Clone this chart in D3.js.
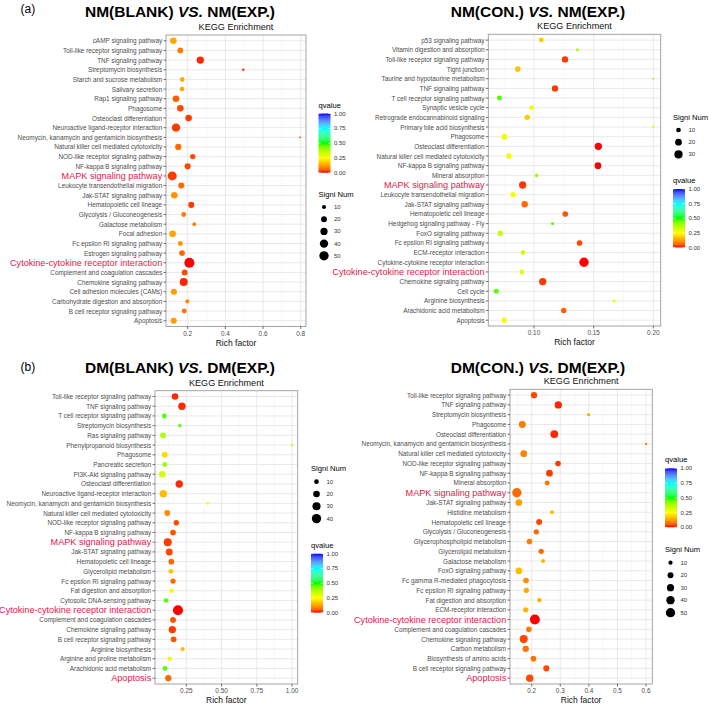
<!DOCTYPE html>
<html><head><meta charset="utf-8">
<script src="https://cdn.jsdelivr.net/npm/d3@7"></script>
<style>body{margin:0;background:#fff}</style>
</head><body>
<svg id="c" width="709" height="706"></svg>
<script>
// ---------------- DATA ----------------
const qBreaks = [0, 0.25, 0.5, 0.75, 1];

const aLeftPathways = ["cAMP signaling pathway","Toll-like receptor signaling pathway","TNF signaling pathway","Streptomycin biosynthesis","Starch and sucrose metabolism","Salivary secretion","Rap1 signaling pathway","Phagosome","Osteoclast differentiation","Neuroactive ligand-receptor interaction","Neomycin, kanamycin and gentamicin biosynthesis","Natural killer cell mediated cytotoxicity","NOD-like receptor signaling pathway","NF-kappa B signaling pathway","MAPK signaling pathway","Leukocyte transendothelial migration","Jak-STAT signaling pathway","Hematopoietic cell lineage","Glycolysis / Gluconeogenesis","Galactose metabolism","Focal adhesion","Fc epsilon RI signaling pathway","Estrogen signaling pathway","Cytokine-cytokine receptor interaction","Complement and coagulation cascades","Chemokine signaling pathway","Cell adhesion molecules (CAMs)","Carbohydrate digestion and absorption","B cell receptor signaling pathway","Apoptosis"];
const aLeftRich = [0.124,0.161,0.267,0.495,0.171,0.170,0.138,0.161,0.205,0.138,0.796,0.150,0.227,0.200,0.118,0.166,0.129,0.219,0.179,0.235,0.120,0.161,0.170,0.209,0.184,0.179,0.127,0.198,0.182,0.126];
const aLeftQ = [0.13,0.08,0.01,0.02,0.13,0.13,0.05,0.03,0.02,0.02,0.03,0.06,0.03,0.03,0.02,0.06,0.11,0.02,0.08,0.08,0.13,0.11,0.06,0.00,0.03,0.01,0.12,0.10,0.07,0.12];
const aLeftCount = [25,19,31,4,12,12,25,25,25,40,2,22,16,22,46,21,25,21,14,8,25,14,19,58,19,37,22,10,14,21];
const aLeftHighlight = [14, 23];
const aLeftTicks = [0.2, 0.4, 0.6, 0.8];
const aLeftSizeBreaks = [10, 20, 30, 40, 50];

const aRightPathways = ["p53 signaling pathway","Vitamin digestion and absorption","Toll-like receptor signaling pathway","Tight junction","Taurine and hypotaurine metabolism","TNF signaling pathway","T cell receptor signaling pathway","Synaptic vesicle cycle","Retrograde endocannabinoid signaling","Primary bile acid biosynthesis","Phagosome","Osteoclast differentiation","Natural killer cell mediated cytotoxicity","NF-kappa B signaling pathway","Mineral absorption","MAPK signaling pathway","Leukocyte transendothelial migration","Jak-STAT signaling pathway","Hematopoietic cell lineage","Hedgehog signaling pathway - Fly","FoxO signaling pathway","Fc epsilon RI signaling pathway","ECM-receptor interaction","Cytokine-cytokine receptor interaction","Cytokine-cytokine receptor interaction","Chemokine signaling pathway","Cell cycle","Arginine biosynthesis","Arachidonic acid metabolism","Apoptosis"];
const aRightRich = [0.1061,0.1363,0.126,0.0864,0.200,0.1176,0.0710,0.098,0.0944,0.200,0.0751,0.1539,0.079,0.1536,0.1022,0.0905,0.0824,0.0922,0.1262,0.1156,0.0718,0.1382,0.0908,0.1419,0.0897,0.1073,0.0684,0.167,0.1249,0.0751];
const aRightQ = [0.18,0.38,0.02,0.17,0.38,0.02,0.47,0.28,0.18,0.27,0.27,0.0,0.27,0.0,0.40,0.02,0.27,0.06,0.04,0.45,0.35,0.03,0.33,0.0,0.29,0.02,0.47,0.28,0.05,0.27];
const aRightCount = [11,4,18,14,2,18,11,10,13,3,16,24,14,20,6,24,13,18,14,5,13,14,10,39,10,24,11,4,13,13];
const aRightHighlight = [15, 24];
const aRightTicks = [0.10, 0.15, 0.20];
const aRightSizeBreaks = [10, 20, 30];

const bLeftPathways = ["Toll-like receptor signaling pathway","TNF signaling pathway","T cell receptor signaling pathway","Streptomycin biosynthesis","Ras signaling pathway","Phenylpropanoid biosynthesis","Phagosome","Pancreatic secretion","PI3K-Akt signaling pathway","Osteoclast differentiation","Neuroactive ligand-receptor interaction","Neomycin, kanamycin and gentamicin biosynthesis","Natural killer cell mediated cytotoxicity","NOD-like receptor signaling pathway","NF-kappa B signaling pathway","MAPK signaling pathway","Jak-STAT signaling pathway","Hematopoietic cell lineage","Glycerolipid metabolism","Fc epsilon RI signaling pathway","Fat digestion and absorption","Cytosolic DNA-sensing pathway","Cytokine-cytokine receptor interaction","Complement and coagulation cascades","Chemokine signaling pathway","B cell receptor signaling pathway","Arginine biosynthesis","Arginine and proline metabolism","Arachidonic acid metabolism","Apoptosis"];
const bLeftRich = [0.170,0.219,0.094,0.203,0.085,1.0,0.097,0.097,0.080,0.200,0.087,0.402,0.115,0.179,0.156,0.118,0.129,0.144,0.141,0.156,0.146,0.106,0.191,0.156,0.151,0.160,0.224,0.132,0.099,0.122];
const bLeftQ = [0.01,0.01,0.47,0.47,0.38,0.38,0.20,0.40,0.32,0.01,0.16,0.24,0.10,0.03,0.04,0.02,0.03,0.06,0.17,0.06,0.27,0.47,0.0,0.04,0.02,0.04,0.15,0.27,0.47,0.06];
const bLeftCount = [20,25,11,5,16,2,16,11,20,25,25,4,16,13,15,29,22,15,11,13,9,10,46,16,25,15,7,10,10,18];
const bLeftHighlight = [15, 22, 29];
const bLeftTicks = [0.25, 0.50, 0.75, 1.00];
const bLeftSizeBreaks = [10, 20, 30, 40];

const bRightPathways = ["Toll-like receptor signaling pathway","TNF signaling pathway","Streptomycin biosynthesis","Phagosome","Osteoclast differentiation","Neomycin, kanamycin and gentamicin biosynthesis","Natural killer cell mediated cytotoxicity","NOD-like receptor signaling pathway","NF-kappa B signaling pathway","Mineral absorption","MAPK signaling pathway","Jak-STAT signaling pathway","Histidine metabolism","Hematopoietic cell lineage","Glycolysis / Gluconeogenesis","Glycerophospholipid metabolism","Glycerolipid metabolism","Galactose metabolism","FoxO signaling pathway","Fc gamma R-mediated phagocytosis","Fc epsilon RI signaling pathway","Fat digestion and absorption","ECM-receptor interaction","Cytokine-cytokine receptor interaction","Complement and coagulation cascades","Chemokine signaling pathway","Carbon metabolism","Biosynthesis of amino acids","B cell receptor signaling pathway","Apoptosis"];
const bRightRich = [0.208,0.293,0.399,0.167,0.279,0.600,0.172,0.292,0.262,0.254,0.148,0.155,0.271,0.226,0.216,0.192,0.233,0.240,0.155,0.180,0.181,0.227,0.179,0.211,0.190,0.172,0.179,0.206,0.251,0.193];
const bRightQ = [0.03,0.01,0.14,0.08,0.01,0.08,0.09,0.02,0.02,0.07,0.06,0.12,0.16,0.03,0.06,0.08,0.06,0.15,0.16,0.10,0.13,0.14,0.15,0.0,0.08,0.03,0.07,0.07,0.03,0.03];
const bRightCount = [23,31,6,28,34,3,26,18,26,14,50,26,9,21,16,18,16,9,26,18,16,11,16,57,18,37,23,18,21,31];
const bRightHighlight = [10, 23, 29];
const bRightTicks = [0.2, 0.3, 0.4, 0.5, 0.6];
const bRightSizeBreaks = [10, 20, 30, 40, 50];

// ---------------- DRAWING ----------------
const FONT = "'Liberation Sans', Arial, Helvetica, sans-serif";
const RED_LABEL = "#E0204A";
const svg = d3.select("#c");
svg.append("rect").attr("width",709).attr("height",706).attr("fill","#fff");

const colour = d3.scaleLinear().domain(qBreaks)
  .range(["#FF0000","#FFFF00","#00FF00","#00FFFF","#0000FF"])
  .interpolate(d3.interpolateLab).clamp(true);

function fmtTick(ticks){
  const step = ticks[1]-ticks[0];
  const dec = step < 0.1 - 1e-9 || ticks.some(t => Math.abs(t*10 - Math.round(t*10))>1e-9) ? 2 : 1;
  return d3.format("." + dec + "f");
}

let gid = 0;
function drawPanel(p){
  const g = svg.append("g");
  const x = d3.scaleLinear().domain(p.xDomain).range([p.x0, p.x1]);
  const idx = d3.range(p.names.length);
  const y = d3.scalePoint().domain(idx).range([p.y0, p.y1]).padding(0.6);
  const rScale = n => p.k * Math.sqrt(n);

  g.append("rect").attr("x",p.x0).attr("y",p.y0).attr("width",p.x1-p.x0).attr("height",p.y1-p.y0).attr("fill","#fff");
  const step = p.ticks[1]-p.ticks[0];
  const minor = [];
  for (let t = p.ticks[0]-step/2; t <= p.ticks[p.ticks.length-1]+step; t += step) {
    if (t > p.xDomain[0] && t < p.xDomain[1]) minor.push(t);
  }
  g.selectAll(null).data(minor).join("line")
    .attr("x1",d=>x(d)).attr("x2",d=>x(d)).attr("y1",p.y0).attr("y2",p.y1)
    .attr("stroke","#F0F0F0").attr("stroke-width",0.5);
  g.selectAll(null).data(p.ticks).join("line")
    .attr("x1",d=>x(d)).attr("x2",d=>x(d)).attr("y1",p.y0).attr("y2",p.y1)
    .attr("stroke","#E6E6E6").attr("stroke-width",0.9);
  g.selectAll(null).data(idx).join("line")
    .attr("x1",p.x0).attr("x2",p.x1).attr("y1",d=>y(d)).attr("y2",d=>y(d))
    .attr("stroke","#E6E6E6").attr("stroke-width",0.9);

  g.selectAll(null).data(idx).join("circle")
    .attr("cx",i=>x(p.rich[i])).attr("cy",i=>y(i))
    .attr("r",i=>rScale(p.count[i]))
    .attr("fill",i=>colour(p.q[i]));

  g.append("rect").attr("x",p.x0).attr("y",p.y0).attr("width",p.x1-p.x0).attr("height",p.y1-p.y0)
    .attr("fill","none").attr("stroke","#9A9A9A").attr("stroke-width",0.9);

  g.selectAll(null).data(idx).join("line")
    .attr("x1",p.x0-2.5).attr("x2",p.x0).attr("y1",d=>y(d)).attr("y2",d=>y(d))
    .attr("stroke","#333").attr("stroke-width",0.7);
  g.selectAll(null).data(idx).join("text")
    .attr("x",p.x0-3.8).attr("y",d=>y(d))
    .attr("text-anchor","end").attr("dominant-baseline","central")
    .attr("font-family",FONT)
    .attr("font-size",d=>p.highlight.includes(d)?9.1:6.4)
    .attr("fill",d=>p.highlight.includes(d)?RED_LABEL:"#4D4D4D")
    .text(d=>p.names[d]);

  const f = fmtTick(p.ticks);
  g.selectAll(null).data(p.ticks).join("line")
    .attr("x1",d=>x(d)).attr("x2",d=>x(d)).attr("y1",p.y1).attr("y2",p.y1+2.5)
    .attr("stroke","#333").attr("stroke-width",0.7);
  g.selectAll(null).data(p.ticks).join("text")
    .attr("x",d=>x(d)).attr("y",p.y1+9.3)
    .attr("text-anchor","middle").attr("font-family",FONT).attr("font-size",6.4).attr("fill","#4D4D4D")
    .text(d=>f(d));
  g.append("text").attr("x",(p.x0+p.x1)/2).attr("y",p.y1+p.xTitleGap)
    .attr("text-anchor","middle").attr("font-family",FONT).attr("font-size",8.5).attr("fill","#111")
    .text("Rich factor");
  g.append("text").attr("x",(p.x0+p.x1)/2).attr("y",p.y0-5.2)
    .attr("text-anchor","middle").attr("font-family",FONT).attr("font-size",9.1).attr("fill","#111")
    .text("KEGG Enrichment");

  const t = g.append("text").attr("x",p.titleX).attr("y",p.titleY)
    .attr("text-anchor","middle").attr("font-family",FONT).attr("font-size",15.5).attr("font-weight","bold").attr("fill","#000");
  t.append("tspan").text(p.title[0] + " ");
  t.append("tspan").attr("font-style","italic").text(p.title[1]);
  t.append("tspan").text(" " + p.title[2]);
  if (p.tag) {
    g.append("text").attr("x",p.tag.x).attr("y",p.tag.y).attr("font-family",FONT).attr("font-size",12)
      .attr("fill","#000").text(p.tag.text);
  }

  const q = p.qLeg;
  const id = "grad" + (gid++);
  const grad = svg.append("defs").append("linearGradient").attr("id",id)
    .attr("x1",0).attr("y1",1).attr("x2",0).attr("y2",0);
  d3.range(0,1.0001,0.05).forEach(v => grad.append("stop").attr("offset",v).attr("stop-color",colour(v)));
  g.append("text").attr("x",q.x).attr("y",q.titleY).attr("font-family",FONT).attr("font-size",7.6).attr("fill","#000").text("qvalue");
  g.append("rect").attr("x",q.x).attr("y",q.y0).attr("width",12).attr("height",q.y1-q.y0).attr("fill","url(#"+id+")");
  const qy = d3.scaleLinear().domain([0,1]).range([q.y1,q.y0]);
  g.selectAll(null).data(qBreaks).join("line")
    .attr("x1",q.x).attr("x2",q.x+2.4).attr("y1",d=>qy(d)).attr("y2",d=>qy(d)).attr("stroke","#fff").attr("stroke-width",0.6);
  g.selectAll(null).data(qBreaks).join("line")
    .attr("x1",q.x+9.6).attr("x2",q.x+12).attr("y1",d=>qy(d)).attr("y2",d=>qy(d)).attr("stroke","#fff").attr("stroke-width",0.6);
  g.selectAll(null).data(qBreaks).join("text")
    .attr("x",q.x+15.5).attr("y",d=>qy(d)).attr("dominant-baseline","central")
    .attr("font-family",FONT).attr("font-size",6).attr("fill","#333")
    .text(d=>d3.format(".2f")(d));

  const s = p.sLeg;
  g.append("text").attr("x",s.x).attr("y",s.titleY).attr("font-family",FONT).attr("font-size",7.6).attr("fill","#000").text("Signi Num");
  g.selectAll(null).data(p.sizeBreaks).join("circle")
    .attr("cx",s.x+5.5).attr("cy",(d,i)=>s.y0+i*s.dy).attr("r",d=>rScale(d)).attr("fill","#000");
  g.selectAll(null).data(p.sizeBreaks).join("text")
    .attr("x",s.x+15.5).attr("y",(d,i)=>s.y0+i*s.dy).attr("dominant-baseline","central")
    .attr("font-family",FONT).attr("font-size",6).attr("fill","#333").text(d=>d);
}

drawPanel({
  names:aLeftPathways, rich:aLeftRich, q:aLeftQ, count:aLeftCount, highlight:aLeftHighlight,
  ticks:aLeftTicks, sizeBreaks:aLeftSizeBreaks, k:0.66,
  xDomain:[0.085,0.828], x0:166, x1:306, y0:35, y1:326.5, xTitleGap:19.3,
  title:["NM(BLANK)","VS.","NM(EXP.)"], titleX:180, titleY:17,
  tag:{text:"(a)", x:20.5, y:13},
  qLeg:{x:318.5, titleY:108, y0:113.5, y1:172.8},
  sLeg:{x:318.5, titleY:196.5, y0:207, dy:12.2}
});
drawPanel({
  names:aRightPathways, rich:aRightRich, q:aRightQ, count:aRightCount, highlight:aRightHighlight,
  ticks:aRightTicks, sizeBreaks:aRightSizeBreaks, k:0.75,
  xDomain:[0.0617,0.2062], x0:488.3, x1:660.7, y0:34.3, y1:326, xTitleGap:19.3,
  title:["NM(CON.)","VS.","NM(EXP.)"], titleX:538, titleY:17,
  qLeg:{x:673, titleY:183, y0:189, y1:247.5},
  sLeg:{x:673, titleY:119.5, y0:130, dy:12.2}
});
drawPanel({
  names:bLeftPathways, rich:bLeftRich, q:bLeftQ, count:bLeftCount, highlight:bLeftHighlight,
  ticks:bLeftTicks, sizeBreaks:bLeftSizeBreaks, k:0.74,
  xDomain:[0.028,1.04], x0:155, x1:297.7, y0:390.7, y1:684, xTitleGap:18.5,
  title:["DM(BLANK)","VS.","DM(EXP.)"], titleX:180, titleY:373,
  tag:{text:"(b)", x:20.5, y:371},
  qLeg:{x:311, titleY:547.5, y0:553.7, y1:612.7},
  sLeg:{x:311, titleY:471, y0:481.7, dy:12.3}
});
drawPanel({
  names:bRightPathways, rich:bRightRich, q:bRightQ, count:bRightCount, highlight:bRightHighlight,
  ticks:bRightTicks, sizeBreaks:bRightSizeBreaks, k:0.66,
  xDomain:[0.124,0.622], x0:510, x1:652.3, y0:389.3, y1:684, xTitleGap:18.5,
  title:["DM(CON.)","VS.","DM(EXP.)"], titleX:538, titleY:372.7,
  qLeg:{x:665, titleY:462, y0:468.3, y1:527.3},
  sLeg:{x:665, titleY:552, y0:562.7, dy:12.5}
});
</script>
</body></html>
